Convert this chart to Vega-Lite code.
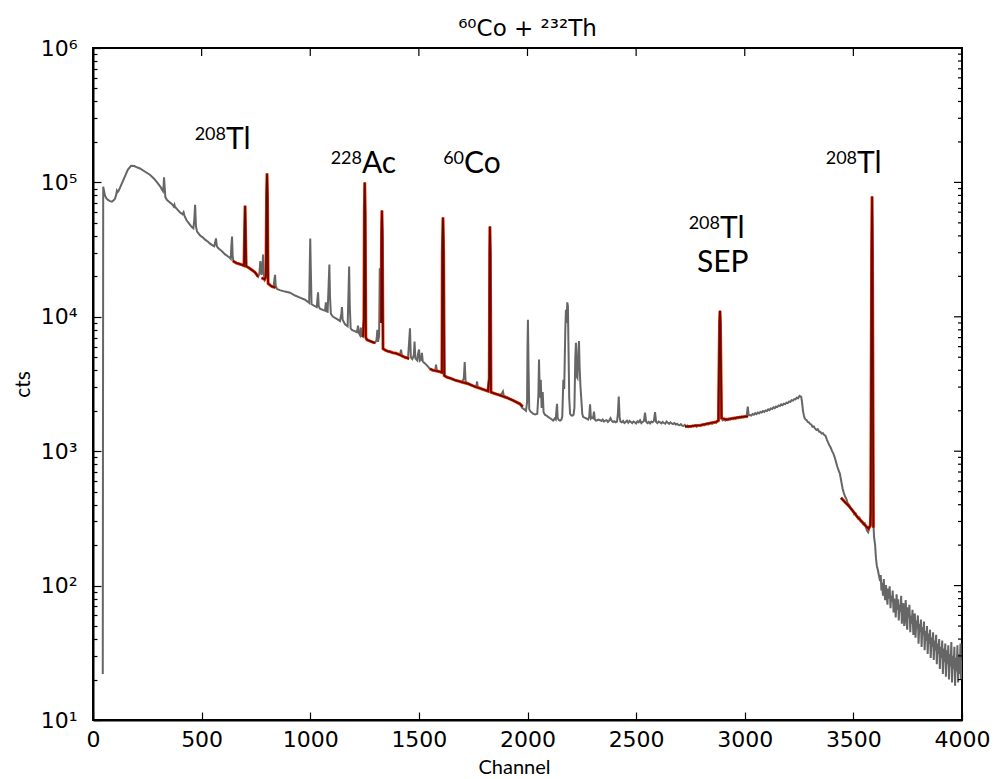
{
 "$schema": "https://vega.github.io/schema/vega-lite/v6.json",
 "width": 869,
 "height": 672,
 "autosize": "none",
 "padding": {"left": 93, "top": 48, "right": 35, "bottom": 59},
 "background": "white",
 "config": {
  "view": {"stroke": "black", "strokeWidth": 2},
  "axis": {"domainColor": "black", "domainWidth": 2, "tickColor": "black", "tickWidth": 1.2, "grid": false, "labelColor": "black", "titleColor": "black", "labelFont": "DejaVu Sans", "labelFontSize": 22, "labelFlush": false, "labelOverlap": false}
 },
 "title": {"text": "⁶⁰Co + ²³²Th", "font": "DejaVu Sans", "fontSize": 23, "fontWeight": "normal", "color": "black", "offset": 11, "dy": 33, "baseline": "alphabetic", "anchor": "middle"},
 "datasets": {
  "spec": [
   {"c":45,"v":22},{"c":47,"v":93000},{"c":50,"v":88000},{"c":55,"v":80000},{"c":62,"v":76000},{"c":69,"v":74000},{"c":78,"v":72500},{"c":87,"v":72000},{"c":95,"v":73500},{"c":101,"v":75500},{"c":106,"v":80000},{"c":110,"v":86500},{"c":113,"v":84500},{"c":117,"v":86000},{"c":124,"v":91000},{"c":135,"v":100000},{"c":147,"v":111000},{"c":160,"v":124000},{"c":175,"v":133000},{"c":190,"v":132500},{"c":205,"v":129000},{"c":216,"v":127000},{"c":240,"v":120000},{"c":262,"v":114000},{"c":280,"v":107000},{"c":295,"v":100000},{"c":310,"v":93000},{"c":322,"v":86000},{"c":325,"v":95000},{"c":327,"v":109000},{"c":330,"v":92000},{"c":333,"v":78000},{"c":336,"v":76000},{"c":341,"v":74000},{"c":354,"v":71000},{"c":365,"v":68500},{"c":372,"v":66000},{"c":375,"v":68000},{"c":377,"v":66000},{"c":390,"v":62500},{"c":400,"v":60000},{"c":412,"v":58000},{"c":417,"v":60000},{"c":420,"v":57000},{"c":430,"v":52500},{"c":446,"v":48600},{"c":455,"v":46500},{"c":462,"v":45500},{"c":466,"v":52000},{"c":470,"v":68000},{"c":474,"v":47000},{"c":479,"v":43000},{"c":493,"v":40300},{"c":505,"v":39000},{"c":516,"v":37500},{"c":528,"v":36300},{"c":539,"v":35000},{"c":550,"v":34000},{"c":558,"v":33500},{"c":562,"v":35500},{"c":566,"v":38300},{"c":570,"v":33500},{"c":575,"v":32600},{"c":585,"v":31600},{"c":597,"v":30300},{"c":608,"v":29100},{"c":622,"v":28100},{"c":630,"v":27500},{"c":634,"v":27000},{"c":637,"v":34000},{"c":640,"v":39500},{"c":643,"v":28000},{"c":646,"v":26000},{"c":660,"v":25100},{"c":675,"v":24700},{"c":690,"v":24200},{"c":695,"v":24000},{"c":698,"v":45000},{"c":700,"v":67000},{"c":702,"v":45000},{"c":705,"v":23800},{"c":715,"v":23300},{"c":730,"v":22400},{"c":746,"v":21400},{"c":755,"v":20600},{"c":760,"v":19900},{"c":766,"v":21000},{"c":770,"v":26000},{"c":773,"v":24000},{"c":776,"v":20500},{"c":780,"v":24000},{"c":783,"v":29000},{"c":786,"v":21000},{"c":790,"v":19000},{"c":796,"v":20000},{"c":799,"v":80000},{"c":801,"v":116500},{"c":803,"v":80000},{"c":806,"v":17700},{"c":815,"v":17200},{"c":824,"v":16800},{"c":832,"v":17000},{"c":835,"v":19000},{"c":838,"v":20500},{"c":841,"v":17000},{"c":847,"v":16100},{"c":860,"v":15800},{"c":884,"v":15400},{"c":907,"v":15100},{"c":930,"v":14400},{"c":953,"v":13900},{"c":976,"v":13400},{"c":990,"v":12900},{"c":995,"v":12700},{"c":998,"v":25000},{"c":1000,"v":38200},{"c":1002,"v":25000},{"c":1006,"v":12400},{"c":1017,"v":12100},{"c":1030,"v":11800},{"c":1033,"v":13500},{"c":1036,"v":15200},{"c":1039,"v":12000},{"c":1045,"v":11500},{"c":1060,"v":11200},{"c":1068,"v":11100},{"c":1072,"v":12800},{"c":1075,"v":11000},{"c":1080,"v":10900},{"c":1085,"v":18000},{"c":1088,"v":24500},{"c":1091,"v":14000},{"c":1095,"v":10500},{"c":1105,"v":10000},{"c":1120,"v":9700},{"c":1137,"v":9300},{"c":1143,"v":10500},{"c":1146,"v":11800},{"c":1149,"v":9500},{"c":1160,"v":8800},{"c":1172,"v":8500},{"c":1176,"v":15000},{"c":1179,"v":23700},{"c":1182,"v":12000},{"c":1186,"v":8200},{"c":1192,"v":8000},{"c":1206,"v":7800},{"c":1215,"v":7700},{"c":1220,"v":8600},{"c":1223,"v":7600},{"c":1229,"v":7300},{"c":1233,"v":8300},{"c":1236,"v":7200},{"c":1243,"v":7100},{"c":1247,"v":9500},{"c":1249,"v":60000},{"c":1251,"v":99800},{"c":1253,"v":60000},{"c":1256,"v":7000},{"c":1261,"v":6750},{"c":1275,"v":6600},{"c":1290,"v":6450},{"c":1298,"v":6400},{"c":1305,"v":6700},{"c":1309,"v":8000},{"c":1312,"v":6500},{"c":1317,"v":7200},{"c":1320,"v":23000},{"c":1323,"v":14000},{"c":1326,"v":9000},{"c":1328,"v":40000},{"c":1330,"v":61800},{"c":1332,"v":40000},{"c":1335,"v":5800},{"c":1345,"v":5650},{"c":1355,"v":5550},{"c":1367,"v":5500},{"c":1380,"v":5400},{"c":1395,"v":5350},{"c":1400,"v":5300},{"c":1413,"v":5200},{"c":1418,"v":5700},{"c":1422,"v":5100},{"c":1436,"v":5000},{"c":1450,"v":4900},{"c":1455,"v":6500},{"c":1459,"v":8200},{"c":1463,"v":5000},{"c":1470,"v":4850},{"c":1477,"v":5200},{"c":1480,"v":6550},{"c":1484,"v":4900},{"c":1492,"v":4750},{"c":1498,"v":5500},{"c":1501,"v":5700},{"c":1504,"v":4700},{"c":1510,"v":4800},{"c":1514,"v":5400},{"c":1518,"v":4650},{"c":1528,"v":4500},{"c":1540,"v":4300},{"c":1551,"v":4100},{"c":1565,"v":4000},{"c":1575,"v":3950},{"c":1579,"v":4400},{"c":1583,"v":3950},{"c":1597,"v":3900},{"c":1606,"v":3850},{"c":1608,"v":30000},{"c":1611,"v":54800},{"c":1614,"v":30000},{"c":1617,"v":3650},{"c":1630,"v":3550},{"c":1643,"v":3500},{"c":1666,"v":3380},{"c":1689,"v":3300},{"c":1700,"v":3280},{"c":1707,"v":3500},{"c":1711,"v":4600},{"c":1715,"v":3300},{"c":1726,"v":3200},{"c":1735,"v":3120},{"c":1758,"v":3020},{"c":1765,"v":3100},{"c":1768,"v":3300},{"c":1771,"v":3000},{"c":1781,"v":2940},{"c":1795,"v":2880},{"c":1804,"v":2850},{"c":1818,"v":2800},{"c":1824,"v":3500},{"c":1826,"v":30000},{"c":1827,"v":47000},{"c":1829,"v":30000},{"c":1832,"v":2750},{"c":1845,"v":2700},{"c":1860,"v":2650},{"c":1875,"v":2620},{"c":1883,"v":2700},{"c":1887,"v":2780},{"c":1891,"v":2580},{"c":1905,"v":2520},{"c":1919,"v":2450},{"c":1930,"v":2410},{"c":1942,"v":2360},{"c":1955,"v":2300},{"c":1965,"v":2250},{"c":1975,"v":2100},{"c":1985,"v":2050},{"c":1993,"v":2000},{"c":1998,"v":2300},{"c":2000,"v":6000},{"c":2002,"v":9500},{"c":2005,"v":4000},{"c":2008,"v":2050},{"c":2014,"v":1970},{"c":2020,"v":1940},{"c":2025,"v":1900},{"c":2035,"v":1880},{"c":2045,"v":1900},{"c":2050,"v":2600},{"c":2053,"v":4800},{"c":2057,"v":2500},{"c":2061,"v":3400},{"c":2065,"v":2100},{"c":2070,"v":2750},{"c":2074,"v":1950},{"c":2080,"v":1870},{"c":2085,"v":1850},{"c":2095,"v":1800},{"c":2104,"v":1760},{"c":2112,"v":1720},{"c":2118,"v":1690},{"c":2125,"v":1750},{"c":2130,"v":1720},{"c":2133,"v":2000},{"c":2136,"v":2250},{"c":2139,"v":1760},{"c":2145,"v":1700},{"c":2150,"v":1690},{"c":2156,"v":1720},{"c":2160,"v":1800},{"c":2165,"v":3400},{"c":2169,"v":2900},{"c":2174,"v":8000},{"c":2177,"v":11300},{"c":2180,"v":9000},{"c":2183,"v":12800},{"c":2186,"v":12000},{"c":2189,"v":5500},{"c":2192,"v":2500},{"c":2196,"v":1900},{"c":2201,"v":1850},{"c":2207,"v":1840},{"c":2212,"v":1870},{"c":2216,"v":2100},{"c":2220,"v":5000},{"c":2223,"v":6400},{"c":2226,"v":3600},{"c":2230,"v":3500},{"c":2234,"v":5500},{"c":2237,"v":6600},{"c":2240,"v":4200},{"c":2244,"v":3000},{"c":2248,"v":2400},{"c":2252,"v":1900},{"c":2256,"v":1800},{"c":2262,"v":1780},{"c":2268,"v":1760},{"c":2274,"v":1740},{"c":2279,"v":1720},{"c":2284,"v":1800},{"c":2288,"v":2230},{"c":2292,"v":1750},{"c":2297,"v":1780},{"c":2302,"v":1760},{"c":2306,"v":1970},{"c":2310,"v":1720},{"c":2315,"v":1690},{"c":2320,"v":1700},{"c":2326,"v":1720},{"c":2334,"v":1700},{"c":2340,"v":1680},{"c":2346,"v":1720},{"c":2352,"v":1660},{"c":2358,"v":1690},{"c":2364,"v":1700},{"c":2370,"v":1650},{"c":2376,"v":1690},{"c":2382,"v":1760},{"c":2388,"v":1680},{"c":2394,"v":1650},{"c":2400,"v":1670},{"c":2406,"v":1640},{"c":2412,"v":1660},{"c":2416,"v":1900},{"c":2420,"v":2550},{"c":2424,"v":1800},{"c":2428,"v":1660},{"c":2434,"v":1640},{"c":2440,"v":1680},{"c":2446,"v":1620},{"c":2452,"v":1650},{"c":2458,"v":1690},{"c":2464,"v":1630},{"c":2470,"v":1680},{"c":2476,"v":1650},{"c":2482,"v":1620},{"c":2488,"v":1660},{"c":2494,"v":1640},{"c":2500,"v":1610},{"c":2506,"v":1670},{"c":2512,"v":1640},{"c":2518,"v":1700},{"c":2524,"v":1620},{"c":2530,"v":1650},{"c":2536,"v":1680},{"c":2541,"v":1940},{"c":2546,"v":1660},{"c":2552,"v":1620},{"c":2558,"v":1650},{"c":2564,"v":1610},{"c":2570,"v":1660},{"c":2576,"v":1640},{"c":2582,"v":1680},{"c":2587,"v":1950},{"c":2592,"v":1650},{"c":2598,"v":1620},{"c":2604,"v":1660},{"c":2610,"v":1640},{"c":2616,"v":1610},{"c":2622,"v":1650},{"c":2628,"v":1620},{"c":2634,"v":1600},{"c":2640,"v":1660},{"c":2646,"v":1630},{"c":2652,"v":1600},{"c":2658,"v":1640},{"c":2664,"v":1610},{"c":2670,"v":1590},{"c":2676,"v":1620},{"c":2682,"v":1580},{"c":2688,"v":1600},{"c":2694,"v":1570},{"c":2700,"v":1560},{"c":2706,"v":1590},{"c":2712,"v":1550},{"c":2718,"v":1540},{"c":2724,"v":1570},{"c":2730,"v":1530},{"c":2736,"v":1550},{"c":2742,"v":1510},{"c":2748,"v":1540},{"c":2754,"v":1520},{"c":2760,"v":1550},{"c":2766,"v":1530},{"c":2772,"v":1560},{"c":2778,"v":1520},{"c":2784,"v":1550},{"c":2790,"v":1570},{"c":2796,"v":1540},{"c":2802,"v":1560},{"c":2808,"v":1590},{"c":2814,"v":1560},{"c":2820,"v":1580},{"c":2826,"v":1610},{"c":2832,"v":1580},{"c":2838,"v":1600},{"c":2844,"v":1630},{"c":2850,"v":1600},{"c":2856,"v":1620},{"c":2862,"v":1650},{"c":2868,"v":1630},{"c":2874,"v":1660},{"c":2879,"v":1700},{"c":2882,"v":5000},{"c":2884,"v":9000},{"c":2886,"v":11100},{"c":2888,"v":9000},{"c":2890,"v":5000},{"c":2893,"v":1800},{"c":2898,"v":1700},{"c":2904,"v":1720},{"c":2910,"v":1690},{"c":2916,"v":1730},{"c":2922,"v":1700},{"c":2928,"v":1740},{"c":2934,"v":1720},{"c":2940,"v":1750},{"c":2946,"v":1730},{"c":2952,"v":1770},{"c":2958,"v":1740},{"c":2964,"v":1780},{"c":2970,"v":1760},{"c":2976,"v":1800},{"c":2982,"v":1770},{"c":2988,"v":1810},{"c":2994,"v":1790},{"c":3000,"v":1820},{"c":3006,"v":1800},{"c":3010,"v":1900},{"c":3014,"v":2150},{"c":3018,"v":1850},{"c":3024,"v":1860},{"c":3030,"v":1840},{"c":3036,"v":1890},{"c":3042,"v":1870},{"c":3048,"v":1920},{"c":3054,"v":1890},{"c":3060,"v":1940},{"c":3066,"v":1910},{"c":3072,"v":1960},{"c":3078,"v":1940},{"c":3084,"v":1990},{"c":3090,"v":1960},{"c":3096,"v":2010},{"c":3102,"v":1990},{"c":3108,"v":2050},{"c":3114,"v":2020},{"c":3120,"v":2080},{"c":3126,"v":2060},{"c":3132,"v":2120},{"c":3138,"v":2090},{"c":3144,"v":2150},{"c":3150,"v":2130},{"c":3156,"v":2190},{"c":3162,"v":2170},{"c":3168,"v":2230},{"c":3174,"v":2200},{"c":3180,"v":2260},{"c":3186,"v":2240},{"c":3192,"v":2300},{"c":3198,"v":2280},{"c":3204,"v":2340},{"c":3210,"v":2330},{"c":3216,"v":2400},{"c":3222,"v":2380},{"c":3228,"v":2440},{"c":3234,"v":2430},{"c":3240,"v":2500},{"c":3246,"v":2480},{"c":3252,"v":2580},{"c":3256,"v":2560},{"c":3260,"v":2540},{"c":3264,"v":2300},{"c":3268,"v":2000},{"c":3272,"v":1850},{"c":3276,"v":1760},{"c":3280,"v":1720},{"c":3285,"v":1700},{"c":3290,"v":1650},{"c":3295,"v":1640},{"c":3300,"v":1600},{"c":3306,"v":1580},{"c":3312,"v":1520},{"c":3318,"v":1530},{"c":3324,"v":1470},{"c":3330,"v":1440},{"c":3336,"v":1460},{"c":3342,"v":1400},{"c":3348,"v":1390},{"c":3354,"v":1350},{"c":3360,"v":1360},{"c":3366,"v":1320},{"c":3372,"v":1300},{"c":3378,"v":1220},{"c":3384,"v":1160},{"c":3390,"v":1100},{"c":3396,"v":1060},{"c":3402,"v":1000},{"c":3408,"v":960},{"c":3414,"v":900},{"c":3420,"v":830},{"c":3426,"v":770},{"c":3432,"v":720},{"c":3438,"v":680},{"c":3444,"v":600},{"c":3450,"v":530},{"c":3456,"v":490},{"c":3462,"v":460},{"c":3468,"v":440},{"c":3474,"v":410},{"c":3480,"v":400},{"c":3486,"v":380},{"c":3492,"v":370},{"c":3498,"v":360},{"c":3504,"v":340},{"c":3510,"v":345},{"c":3516,"v":325},{"c":3522,"v":315},{"c":3528,"v":320},{"c":3534,"v":300},{"c":3540,"v":295},{"c":3546,"v":285},{"c":3552,"v":290},{"c":3558,"v":270},{"c":3564,"v":255},{"c":3568,"v":250},{"c":3572,"v":265},{"c":3576,"v":280},{"c":3580,"v":350},{"c":3582,"v":4000},{"c":3584,"v":30000},{"c":3586,"v":78500},{"c":3588,"v":30000},{"c":3590,"v":4000},{"c":3592,"v":300},{"c":3595,"v":232},{"c":3600,"v":200},{"c":3604,"v":160},{"c":3608,"v":140},{"c":3613,"v":130},{"c":3618,"v":118},{"c":3623,"v":108},{"c":3626,"v":120},{"c":3629,"v":92},{"c":3633,"v":105},{"c":3636,"v":84},{"c":3640,"v":112},{"c":3643,"v":90},{"c":3646,"v":78},{"c":3650,"v":101},{"c":3653,"v":86},{"c":3657,"v":72},{"c":3660,"v":95},{"c":3664,"v":80},{"c":3667,"v":99},{"c":3671,"v":68},{"c":3674,"v":84},{"c":3678,"v":76},{"c":3681,"v":92},{"c":3685,"v":63},{"c":3688,"v":80},{"c":3692,"v":70},{"c":3695,"v":58},{"c":3699,"v":86},{"c":3702,"v":66},{"c":3706,"v":79},{"c":3709,"v":55},{"c":3713,"v":72},{"c":3716,"v":64},{"c":3720,"v":84},{"c":3723,"v":52},{"c":3727,"v":68},{"c":3730,"v":74},{"c":3734,"v":50},{"c":3737,"v":63},{"c":3741,"v":78},{"c":3744,"v":54},{"c":3748,"v":47},{"c":3751,"v":69},{"c":3755,"v":58},{"c":3758,"v":72},{"c":3762,"v":45},{"c":3765,"v":60},{"c":3769,"v":52},{"c":3772,"v":66},{"c":3776,"v":43},{"c":3779,"v":57},{"c":3783,"v":62},{"c":3786,"v":41},{"c":3790,"v":55},{"c":3793,"v":48},{"c":3797,"v":60},{"c":3800,"v":37},{"c":3804,"v":52},{"c":3807,"v":45},{"c":3811,"v":56},{"c":3814,"v":35},{"c":3818,"v":49},{"c":3821,"v":43},{"c":3825,"v":54},{"c":3828,"v":33},{"c":3832,"v":46},{"c":3835,"v":39},{"c":3839,"v":50},{"c":3842,"v":31},{"c":3846,"v":44},{"c":3849,"v":37},{"c":3853,"v":47},{"c":3856,"v":29},{"c":3860,"v":41},{"c":3863,"v":35},{"c":3867,"v":45},{"c":3870,"v":28},{"c":3874,"v":39},{"c":3877,"v":33},{"c":3881,"v":43},{"c":3884,"v":26},{"c":3888,"v":37},{"c":3891,"v":31},{"c":3895,"v":40},{"c":3898,"v":24},{"c":3902,"v":35},{"c":3905,"v":29},{"c":3909,"v":39},{"c":3912,"v":22},{"c":3916,"v":34},{"c":3919,"v":27},{"c":3923,"v":37},{"c":3926,"v":21},{"c":3930,"v":33},{"c":3933,"v":26},{"c":3937,"v":36},{"c":3940,"v":20},{"c":3944,"v":31},{"c":3947,"v":25},{"c":3951,"v":38},{"c":3954,"v":19},{"c":3958,"v":30},{"c":3961,"v":24},{"c":3965,"v":35},{"c":3968,"v":18},{"c":3972,"v":29},{"c":3975,"v":23},{"c":3979,"v":36},{"c":3982,"v":19},{"c":3986,"v":31},{"c":3989,"v":22},{"c":3993,"v":37},{"c":3996,"v":20},{"c":4000,"v":28}
  ],
  "fit": [
   {"s":1,"c":644,"v":26000},{"s":1,"c":660,"v":25100},{"s":1,"c":675,"v":24700},{"s":1,"c":690,"v":24200},{"s":1,"c":695,"v":24000},{"s":1,"c":698,"v":45000},{"s":1,"c":700,"v":67000},{"s":1,"c":702,"v":45000},{"s":1,"c":705,"v":23800},{"s":1,"c":715,"v":23300},{"s":1,"c":730,"v":22400},{"s":1,"c":746,"v":21400},{"s":1,"c":760,"v":19900},
   {"s":2,"c":776,"v":19500},{"s":2,"c":790,"v":19000},{"s":2,"c":796,"v":20000},{"s":2,"c":799,"v":80000},{"s":2,"c":801,"v":116500},{"s":2,"c":803,"v":80000},{"s":2,"c":806,"v":17700},{"s":2,"c":815,"v":17200},{"s":2,"c":824,"v":16800},{"s":2,"c":840,"v":16500},
   {"s":3,"c":1243,"v":7100},{"s":3,"c":1247,"v":9500},{"s":3,"c":1249,"v":60000},{"s":3,"c":1251,"v":99800},{"s":3,"c":1253,"v":60000},{"s":3,"c":1256,"v":7000},{"s":3,"c":1261,"v":6750},{"s":3,"c":1275,"v":6600},{"s":3,"c":1290,"v":6450},{"s":3,"c":1298,"v":6400},
   {"s":4,"c":1326,"v":9000},{"s":4,"c":1328,"v":40000},{"s":4,"c":1330,"v":61800},{"s":4,"c":1332,"v":40000},{"s":4,"c":1335,"v":5800},{"s":4,"c":1345,"v":5650},{"s":4,"c":1355,"v":5550},{"s":4,"c":1367,"v":5500},{"s":4,"c":1380,"v":5400},{"s":4,"c":1395,"v":5350},{"s":4,"c":1413,"v":5200},{"s":4,"c":1436,"v":5000},{"s":4,"c":1455,"v":4880},
   {"s":5,"c":1551,"v":4100},{"s":5,"c":1565,"v":4000},{"s":5,"c":1583,"v":3950},{"s":5,"c":1597,"v":3900},{"s":5,"c":1606,"v":3850},{"s":5,"c":1608,"v":30000},{"s":5,"c":1611,"v":54800},{"s":5,"c":1614,"v":30000},{"s":5,"c":1617,"v":3650},{"s":5,"c":1630,"v":3550},{"s":5,"c":1643,"v":3500},{"s":5,"c":1666,"v":3380},{"s":5,"c":1689,"v":3300},{"s":5,"c":1700,"v":3260},{"s":5,"c":1726,"v":3180},{"s":5,"c":1758,"v":3020},{"s":5,"c":1781,"v":2940},{"s":5,"c":1804,"v":2850},{"s":5,"c":1818,"v":2800},{"s":5,"c":1824,"v":3500},{"s":5,"c":1826,"v":30000},{"s":5,"c":1827,"v":47000},{"s":5,"c":1829,"v":30000},{"s":5,"c":1832,"v":2750},{"s":5,"c":1845,"v":2700},{"s":5,"c":1860,"v":2650},{"s":5,"c":1875,"v":2600},{"s":5,"c":1905,"v":2500},{"s":5,"c":1930,"v":2400},{"s":5,"c":1965,"v":2250},{"s":5,"c":1978,"v":2150},
   {"s":6,"c":2725,"v":1530},{"s":6,"c":2748,"v":1530},{"s":6,"c":2772,"v":1550},{"s":6,"c":2796,"v":1560},{"s":6,"c":2820,"v":1590},{"s":6,"c":2844,"v":1620},{"s":6,"c":2868,"v":1650},{"s":6,"c":2879,"v":1690},{"s":6,"c":2882,"v":5000},{"s":6,"c":2884,"v":9000},{"s":6,"c":2886,"v":11100},{"s":6,"c":2888,"v":9000},{"s":6,"c":2890,"v":5000},{"s":6,"c":2893,"v":1760},{"s":6,"c":2916,"v":1720},{"s":6,"c":2940,"v":1750},{"s":6,"c":2964,"v":1775},{"s":6,"c":2988,"v":1800},{"s":6,"c":3015,"v":1820},
   {"s":7,"c":3443,"v":450},{"s":7,"c":3460,"v":420},{"s":7,"c":3480,"v":390},{"s":7,"c":3500,"v":355},{"s":7,"c":3520,"v":322},{"s":7,"c":3540,"v":298},{"s":7,"c":3560,"v":275},{"s":7,"c":3570,"v":265},{"s":7,"c":3578,"v":280},{"s":7,"c":3580,"v":350},{"s":7,"c":3582,"v":4000},{"s":7,"c":3584,"v":30000},{"s":7,"c":3586,"v":78500},{"s":7,"c":3588,"v":30000},{"s":7,"c":3590,"v":4000},{"s":7,"c":3592,"v":270}
  ],
  "labels": [
   {"c":612,"v":178500,"iso":"208","el":"Tl"},
   {"c":1238,"v":116500,"iso":"228","el":"Ac"},
   {"c":1708,"v":116500,"iso":"60","el":"Co"},
   {"c":2886,"v":38900,"iso":"208","el":"Tl"},
   {"c":2780,"v":21400,"iso":"","el":"SEP"},
   {"c":3517,"v":116500,"iso":"208","el":"Tl"}
  ],
  "yt": [
   {"v":10,"m":1},{"v":20,"m":0},{"v":30,"m":0},{"v":40,"m":0},{"v":50,"m":0},{"v":60,"m":0},{"v":70,"m":0},{"v":80,"m":0},{"v":90,"m":0},
   {"v":100,"m":1},{"v":200,"m":0},{"v":300,"m":0},{"v":400,"m":0},{"v":500,"m":0},{"v":600,"m":0},{"v":700,"m":0},{"v":800,"m":0},{"v":900,"m":0},
   {"v":1000,"m":1},{"v":2000,"m":0},{"v":3000,"m":0},{"v":4000,"m":0},{"v":5000,"m":0},{"v":6000,"m":0},{"v":7000,"m":0},{"v":8000,"m":0},{"v":9000,"m":0},
   {"v":10000,"m":1},{"v":20000,"m":0},{"v":30000,"m":0},{"v":40000,"m":0},{"v":50000,"m":0},{"v":60000,"m":0},{"v":70000,"m":0},{"v":80000,"m":0},{"v":90000,"m":0},
   {"v":100000,"m":1},{"v":200000,"m":0},{"v":300000,"m":0},{"v":400000,"m":0},{"v":500000,"m":0},{"v":600000,"m":0},{"v":700000,"m":0},{"v":800000,"m":0},{"v":900000,"m":0},
   {"v":1000000,"m":1}
  ],
  "xt": [
   {"c":0},{"c":500},{"c":1000},{"c":1500},{"c":2000},{"c":2500},{"c":3000},{"c":3500},{"c":4000}
  ]
 },
 "layer": [
  {
   "data": {"name": "spec"},
   "mark": {"type": "line", "color": "#666666", "strokeWidth": 2, "clip": true},
   "encoding": {
    "x": {"field": "c", "type": "quantitative", "scale": {"domain": [0, 4000], "nice": false},
     "axis": {"title": "Channel", "titleFont": "Lato", "titleFontSize": 20, "titleFontWeight": "normal", "titleX": 421, "titleY": 53, "titleBaseline": "alphabetic", "titleAlign": "center", "values": [0,500,1000,1500,2000,2500,3000,3500,4000], "format": "d", "tickSize": -8, "labelPadding": 17}},
    "y": {"field": "v", "type": "quantitative", "scale": {"type": "log", "domain": [10, 1000000], "nice": false},
     "axis": {"title": "cts", "titleFont": "Lato", "titleFontSize": 21, "titleFontWeight": "normal", "titleX": -64, "titleY": 336, "titleAngle": -90, "titleBaseline": "alphabetic", "titleAlign": "center",
      "values": [10,20,30,40,50,60,70,80,90,100,200,300,400,500,600,700,800,900,1000,2000,3000,4000,5000,6000,7000,8000,9000,10000,20000,30000,40000,50000,60000,70000,80000,90000,100000,200000,300000,400000,500000,600000,700000,800000,900000,1000000],
      "labelExpr": "datum.value==10?'10¹':datum.value==100?'10²':datum.value==1000?'10³':datum.value==10000?'10⁴':datum.value==100000?'10⁵':datum.value==1000000?'10⁶':''",
      "tickSize": {"condition": {"test": "indexof([10,100,1000,10000,100000,1000000], datum.value) >= 0", "value": -8}, "value": -4},
      "labelPadding": 24, "labelBaseline": "middle"}}
   }
  },
  {
   "data": {"name": "fit"},
   "mark": {"type": "line", "color": "#ff2a00", "strokeWidth": 3, "clip": true},
   "encoding": {
    "x": {"field": "c", "type": "quantitative"},
    "y": {"field": "v", "type": "quantitative"},
    "detail": {"field": "s", "type": "nominal"}
   }
  },
  {
   "data": {"name": "fit"},
   "mark": {"type": "line", "color": "#5e0a00", "strokeWidth": 1.7, "clip": true},
   "encoding": {
    "x": {"field": "c", "type": "quantitative"},
    "y": {"field": "v", "type": "quantitative"},
    "detail": {"field": "s", "type": "nominal"}
   }
  },
  {
   "data": {"name": "yt"},
   "mark": {"type": "tick", "orient": "horizontal", "color": "black", "thickness": 1.2, "opacity": 1, "clip": true},
   "encoding": {
    "x": {"datum": 4000, "type": "quantitative"},
    "y": {"field": "v", "type": "quantitative"},
    "size": {"condition": {"test": "datum.m == 1", "value": 16}, "value": 8}
   }
  },
  {
   "data": {"name": "xt"},
   "mark": {"type": "tick", "orient": "vertical", "color": "black", "thickness": 1.2, "opacity": 1, "size": 16, "clip": true},
   "encoding": {
    "x": {"field": "c", "type": "quantitative"},
    "y": {"datum": 1000000, "type": "quantitative"}
   }
  },
  {
   "data": {"name": "labels"},
   "mark": {"type": "text", "font": "Lato", "fontSize": 30, "align": "left", "baseline": "alphabetic", "color": "black"},
   "encoding": {
    "x": {"field": "c", "type": "quantitative"},
    "y": {"field": "v", "type": "quantitative"},
    "text": {"field": "el"}
   }
  },
  {
   "data": {"name": "labels"},
   "mark": {"type": "text", "font": "Lato", "fontSize": 18, "align": "right", "baseline": "alphabetic", "dy": -9, "color": "black"},
   "encoding": {
    "x": {"field": "c", "type": "quantitative"},
    "y": {"field": "v", "type": "quantitative"},
    "text": {"field": "iso"}
   }
  }
 ]
}
